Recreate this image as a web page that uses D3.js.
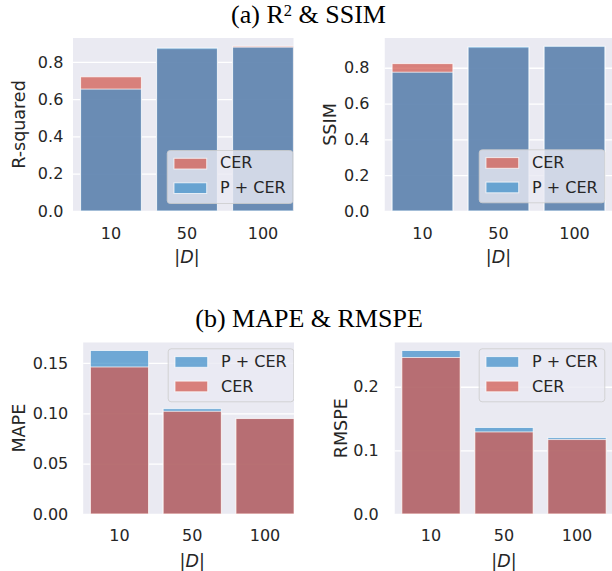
<!DOCTYPE html>
<html>
<head>
<meta charset="utf-8">
<script src="https://cdn.jsdelivr.net/npm/d3@7"></script>
<style>
  body { margin: 0; background: #fff; }
  svg { display: block; }
</style>
</head>
<body>
<svg id="chart" width="612" height="571"></svg>
<script>
// Dataset sizes |D| on the x axis
const sizes = ["10", "50", "100"];

// (a) R-squared and SSIM
const r2CER   = [0.720, 0.870, 0.884];
const r2PCER  = [0.654, 0.874, 0.879];
const ssimCER  = [0.823, 0.912, 0.918];
const ssimPCER = [0.775, 0.916, 0.920];

// (b) MAPE and RMSPE
const mapePCER  = [0.1624, 0.1046, 0.0950];
const mapeCER   = [0.1460, 0.1020, 0.0948];
const rmspePCER = [0.257, 0.136, 0.120];
const rmspeCER  = [0.246, 0.129, 0.117];

// Tick values per panel
const r2Ticks    = [0, 0.2, 0.4, 0.6, 0.8];
const ssimTicks  = [0, 0.2, 0.4, 0.6, 0.8];
const mapeTicks  = [0, 0.05, 0.10, 0.15];
const rmspeTicks = [0, 0.1, 0.2];

const BG = "#EAEAF2", INK = "#262626";
const BLUE = "#4090C9", RED = "#D2594E", ALPHA = 0.73;
const SANS = "'DejaVu Sans', sans-serif";
const SERIF = "'Liberation Serif', 'DejaVu Serif', serif";

const svg = d3.select("#chart");

const panels = [
  { id: "r2", ylabel: "R-squared", ticks: r2Ticks, fmt: ".1f",
    series: [{ name: "CER", values: r2CER, color: RED }, { name: "P + CER", values: r2PCER, color: BLUE }],
    left: 73, right: 301, clipRight: 293.5, top: 38, bottom: 211,
    tickX: 63.3, ylabX: 25, xTickBase: 239, xLabBase: 263.3, legend: { x: 166.7, y: 150 } },
  { id: "ssim", ylabel: "SSIM", ticks: ssimTicks, fmt: ".1f",
    series: [{ name: "CER", values: ssimCER, color: RED }, { name: "P + CER", values: ssimPCER, color: BLUE }],
    left: 384.5, right: 612.5, clipRight: 612, top: 38, bottom: 211,
    tickX: 369.5, ylabX: 336, xTickBase: 239, xLabBase: 263.3, legend: { x: 478.7, y: 149.3 } },
  { id: "mape", ylabel: "MAPE", ticks: mapeTicks, fmt: ".2f",
    series: [{ name: "P + CER", values: mapePCER, color: BLUE }, { name: "CER", values: mapeCER, color: RED }],
    left: 83.1, right: 301.4, clipRight: 294, top: 342.3, bottom: 514,
    tickX: 68.3, ylabX: 25, xTickBase: 541, xLabBase: 566.7, legend: { x: 167.7, y: 348.3 } },
  { id: "rmspe", ylabel: "RMSPE", ticks: rmspeTicks, fmt: ".1f",
    series: [{ name: "P + CER", values: rmspePCER, color: BLUE }, { name: "CER", values: rmspeCER, color: RED }],
    left: 394.5, right: 613.5, clipRight: 612, top: 342.3, bottom: 514,
    tickX: 378.7, ylabX: 346.7, xTickBase: 541, xLabBase: 566.7, legend: { x: 478.7, y: 348.3 } }
];

const defs = svg.append("defs");

panels.forEach(p => {
  const x = d3.scaleBand().domain(sizes).range([p.left, p.right])
    .paddingInner(0.2).paddingOuter(0.1);
  const ymax = 1.05 * d3.max(p.series.flatMap(s => s.values));
  const y = d3.scaleLinear().domain([0, ymax]).range([p.bottom, p.top]);
  const visRight = Math.min(p.right, p.clipRight);

  defs.append("clipPath").attr("id", "clip-" + p.id)
    .append("rect")
    .attr("x", p.left).attr("y", p.top)
    .attr("width", visRight - p.left).attr("height", p.bottom - p.top);

  const g = svg.append("g").attr("clip-path", `url(#clip-${p.id})`);

  // plot background
  g.append("rect")
    .attr("x", p.left).attr("y", p.top)
    .attr("width", p.right - p.left).attr("height", p.bottom - p.top)
    .attr("fill", BG);

  // horizontal grid
  const grid = g.append("g").attr("transform", `translate(${p.left},0)`)
    .call(d3.axisLeft(y).tickValues(p.ticks).tickSize(-(p.right - p.left)).tickFormat(""));
  grid.select(".domain").remove();
  grid.selectAll("line").attr("stroke", "#fff").attr("stroke-width", 1.3);

  // overlapping bars, one layer per series
  p.series.forEach(s => {
    g.append("g").selectAll("rect")
      .data(sizes.map((k, i) => ({ k, v: s.values[i] })))
      .join("rect")
      .attr("x", d => x(d.k))
      .attr("width", x.bandwidth())
      .attr("y", d => y(d.v))
      .attr("height", d => y(0) - y(d.v))
      .attr("fill", s.color).attr("fill-opacity", ALPHA)
      .attr("stroke", "#fff").attr("stroke-opacity", ALPHA).attr("stroke-width", 1);
  });

  // legend
  const lg = g.append("g").attr("transform", `translate(${p.legend.x},${p.legend.y})`);
  lg.append("rect")
    .attr("x", 0.5).attr("y", 0.5).attr("width", 125.6).attr("height", 53)
    .attr("rx", 3)
    .attr("fill", BG).attr("fill-opacity", 0.8)
    .attr("stroke", "#CCCCCC").attr("stroke-opacity", 0.8).attr("stroke-width", 1);
  p.series.forEach((s, i) => {
    lg.append("rect")
      .attr("x", 7.3).attr("y", 8.3 + i * 24.5)
      .attr("width", 32.7).attr("height", 10.7)
      .attr("fill", s.color).attr("fill-opacity", ALPHA)
      .attr("stroke", "#fff").attr("stroke-opacity", ALPHA).attr("stroke-width", 1);
    lg.append("text")
      .attr("x", 53.3).attr("y", 18.3 + i * 25)
      .attr("font-family", SANS).attr("font-size", 16).attr("fill", INK)
      .text(s.name);
  });

  // y tick labels
  const ya = svg.append("g").attr("transform", `translate(${p.left},0)`)
    .call(d3.axisLeft(y).tickValues(p.ticks).tickFormat(d3.format(p.fmt))
      .tickSize(0).tickPadding(p.left - p.tickX));
  ya.select(".domain").remove();
  ya.selectAll("text").attr("font-family", SANS).attr("font-size", 16).attr("fill", INK);

  // x tick labels
  const xa = svg.append("g").attr("transform", `translate(0,${p.bottom})`)
    .call(d3.axisBottom(x).tickSize(0).tickPadding(p.xTickBase - p.bottom - 0.71 * 16));
  xa.select(".domain").remove();
  xa.selectAll("text").attr("font-family", SANS).attr("font-size", 16).attr("fill", INK);

  // axis titles
  const xl = svg.append("text")
    .attr("x", x("50") + x.bandwidth() / 2).attr("y", p.xLabBase)
    .attr("text-anchor", "middle")
    .attr("font-family", SANS).attr("font-size", 17.5).attr("fill", INK);
  xl.append("tspan").text("|");
  xl.append("tspan").attr("font-style", "italic").text("D");
  xl.append("tspan").text("|");

  svg.append("text")
    .attr("transform", `translate(${p.ylabX},${(p.top + p.bottom) / 2}) rotate(-90)`)
    .attr("text-anchor", "middle")
    .attr("font-family", SANS).attr("font-size", 17.5).attr("fill", INK)
    .text(p.ylabel);
});

// row titles
const ta = svg.append("text").attr("x", 308.5).attr("y", 23)
  .attr("text-anchor", "middle").attr("font-family", SERIF).attr("font-size", 26).attr("fill", "#000");
ta.append("tspan").text("(a) R");
ta.append("tspan").attr("dy", -7.5).attr("font-size", 16.5).text("2");
ta.append("tspan").attr("dy", 7.5).text(" & SSIM");

svg.append("text").attr("x", 309).attr("y", 326.7)
  .attr("text-anchor", "middle").attr("font-family", SERIF).attr("font-size", 26).attr("fill", "#000")
  .text("(b) MAPE & RMSPE");
</script>
</body>
</html>
